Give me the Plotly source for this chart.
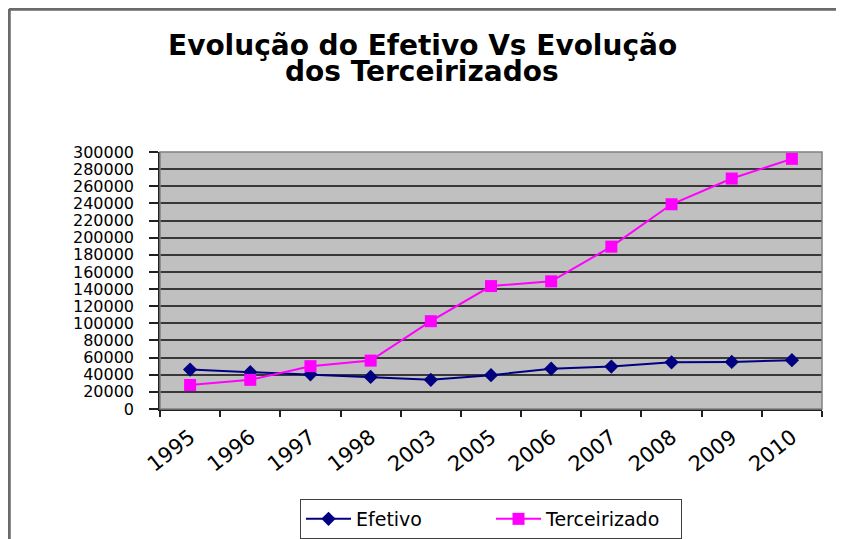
import plotly.graph_objects as go

years = ["1995", "1996", "1997", "1998", "2003", "2005", "2006", "2007", "2008", "2009", "2010"]
efetivo = [46000, 43000, 40500, 37500, 34000, 39500, 47000, 49500, 54500, 55000, 57000]
terceirizado = [28000, 34000, 50000, 56500, 102500, 143500, 149000, 189500, 239000, 269000, 292000]
title_lines = ["Evolução do Efetivo Vs Evolução", "dos Terceirizados"]

W, H = 844, 539
OFF = 8  # page body margin offset
# desired plot area in page pixels
PL, PR, PT, PB = 160, 822, 152, 409
L = PL - OFF
T = PT - OFF
R = W - (PR - OFF)
B = H - (PB - OFF)
PW, PH = PR - PL, PB - PT


def px(x):
    return (x - PL) / PW


def py(y):
    return (PB - y) / PH


fig = go.Figure()
fig.add_trace(go.Scatter(
    x=years, y=efetivo, name="Efetivo", mode="lines+markers",
    line=dict(color="#000080", width=2),
    marker=dict(symbol="diamond", size=11, color="#000080"),
))
fig.add_trace(go.Scatter(
    x=years, y=terceirizado, name="Terceirizado", mode="lines+markers",
    line=dict(color="#FF00FF", width=2),
    marker=dict(symbol="square", size=12, color="#FF00FF"),
))

shapes = [
    dict(type="rect", xref="paper", yref="paper", x0=0, y0=0, x1=1, y1=1,
         line=dict(color="#808080", width=1.5)),
    dict(type="line", xref="paper", yref="paper", x0=px(9), x1=px(9), y0=py(9), y1=py(560),
         line=dict(color="#6a6a6a", width=3.5)),
    dict(type="line", xref="paper", yref="paper", x0=px(9), x1=px(870), y0=py(9), y1=py(9),
         line=dict(color="#6a6a6a", width=3.5)),
]

annotations = [
    dict(text=title_lines[0], xref="paper", yref="paper", x=px(422), y=py(45.5),
         xanchor="center", yanchor="middle", showarrow=False,
         font=dict(family="DejaVu Sans", size=28, color="black", weight="bold")),
    dict(text=title_lines[1], xref="paper", yref="paper", x=px(422), y=py(71),
         xanchor="center", yanchor="middle", showarrow=False,
         font=dict(family="DejaVu Sans", size=28, color="black", weight="bold")),
]

fig.update_layout(
    width=W, height=H,
    margin=dict(l=L, r=R, t=T, b=B, autoexpand=False),
    paper_bgcolor="white",
    plot_bgcolor="#C0C0C0",
    font=dict(family="DejaVu Sans", color="black"),
    shapes=shapes,
    annotations=annotations,
    showlegend=True,
    legend=dict(
        orientation="h", x=px(491), xanchor="center", y=py(499), yanchor="top",
        bgcolor="white", bordercolor="#404040", borderwidth=1,
        font=dict(family="DejaVu Sans", size=19, color="black"),
        itemwidth=45, entrywidth=130, entrywidthmode="pixels",
    ),
)

fig.update_xaxes(
    type="category", categoryorder="array", categoryarray=years,
    range=[-0.5, len(years) - 0.5],
    showgrid=False, showline=True, linecolor="#202020", linewidth=1.5,
    ticks="outside", ticklen=6, tickcolor="#202020", tickwidth=1.5,
    tickson="boundaries", tickangle=-38,
    tickfont=dict(family="DejaVu Sans", size=21, color="black"),
    ticklabelstandoff=6, automargin=False,
)
fig.update_yaxes(
    range=[0, 300000], dtick=20000, tick0=0, tickformat="d",
    showgrid=True, gridcolor="#383838", gridwidth=1.5,
    showline=True, linecolor="#202020", linewidth=1.5,
    ticks="outside", ticklen=9, tickcolor="#202020", tickwidth=1.5,
    tickfont=dict(family="DejaVu Sans", size=16, color="black"),
    ticklabelstandoff=12, zeroline=False, automargin=False,
)

fig.write_html("out.html")
